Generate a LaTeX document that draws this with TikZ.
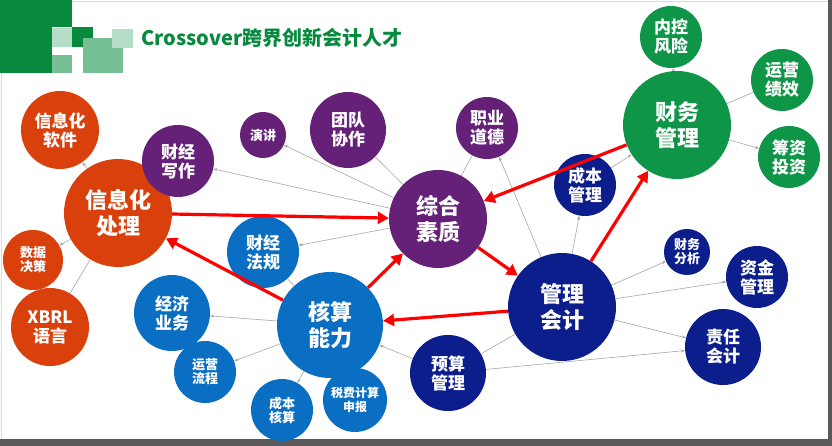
\documentclass[tikz,border=0pt]{standalone}
\usepackage{fontspec}
\setmainfont{Noto Sans CJK SC}
\usetikzlibrary{arrows.meta,backgrounds}
\definecolor{ored}{HTML}{D9400C}
\definecolor{purp}{HTML}{652078}
\definecolor{grn}{HTML}{0E9547}
\definecolor{navy}{HTML}{0C1D8C}
\definecolor{blu}{HTML}{0A6FC2}
\definecolor{dg}{HTML}{078A3E}
\tikzset{
 bub/.style={circle,inner sep=0pt,text=white,font=\bfseries,align=center},
 big/.style={bub,font=\fontsize{22}{26}\bfseries},
 mid/.style={bub,font=\fontsize{17}{19}\bfseries},
 sml/.style={bub,font=\fontsize{13}{14}\bfseries},
 red/.style={draw=red,line width=3.2pt,-{Triangle[length=11pt,width=12pt]}},
 gl/.style={draw=gray!70,line width=0.6pt},
 ga/.style={gl,-{Stealth[length=4pt,width=3pt]}}
}
\begin{document}
\begin{tikzpicture}[x=1pt,y=-1pt]
\useasboundingbox (0,0) rectangle (832,446);
% nodes
\node[big,fill=ored,minimum size=108pt] (xxh) at (118,213) {信息化\\处理};
\node[mid,fill=ored,minimum size=78pt] (rj) at (60,130) {信息化\\软件};
\node[sml,fill=ored,minimum size=60pt] (sj) at (33,260) {数据\\决策};
\node[mid,fill=ored,minimum size=78pt] (xb) at (50,327) {XBRL\\语言};
\node[mid,fill=purp,minimum size=72pt] (xz) at (178,161) {财经\\写作};
\node[sml,fill=purp,minimum size=46pt] (yj) at (263,135) {演讲};
\node[mid,fill=purp,minimum size=76pt] (td) at (348,130) {团队\\协作};
\node[mid,fill=purp,minimum size=62pt] (zy) at (487,128) {职业\\道德};
\node[big,fill=purp,minimum size=98pt] (zh) at (438,219) {综合\\素质};
\node[big,fill=grn,minimum size=108pt] (cw) at (677,125) {财务\\管理};
\node[mid,fill=grn,minimum size=62pt] (nk) at (671,37) {内控\\风险};
\node[mid,fill=grn,minimum size=62pt] (yy) at (782,80) {运营\\绩效};
\node[mid,fill=grn,minimum size=62pt] (cz) at (789,157) {筹资\\投资};
\node[mid,fill=navy,minimum size=62pt] (cb) at (585,185) {成本\\管理};
\node[big,fill=navy,minimum size=108pt] (gl) at (562,307) {管理\\会计};
\node[sml,fill=navy,minimum size=46pt] (fx) at (687,252) {财务\\分析};
\node[mid,fill=navy,minimum size=62pt] (zj) at (757,277) {资金\\管理};
\node[mid,fill=navy,minimum size=76pt] (zr) at (723,347) {责任\\会计};
\node[mid,fill=navy,minimum size=76pt] (ys) at (448,373) {预算\\管理};
\node[big,fill=blu,minimum size=106pt] (hs) at (330,325) {核算\\能力};
\node[mid,fill=blu,minimum size=72pt] (fg) at (263,252) {财经\\法规};
\node[mid,fill=blu,minimum size=76pt] (jj) at (172,313) {经济\\业务};
\node[sml,fill=blu,minimum size=62pt] (lc) at (205,372) {运营\\流程};
\node[sml,fill=blu,minimum size=62pt] (hsb) at (282,410) {成本\\核算};
\node[sml,fill=blu,minimum size=64pt,font=\fontsize{12}{14}\bfseries] (sf) at (355,400) {税费计算\\申报};
\node[anchor=west,text=dg,font=\fontsize{20}{22}\bfseries] (title) at (138,38) {Crossover跨界创新会计人才};
\begin{scope}[on background layer]
\fill[white] (0,0) rectangle (832,446);
\draw[gray!30] (1,1) rectangle (828,439);
\fill[gray!70!black] (0,439) rectangle (832,446);
\fill[gray!70!black] (828,0) rectangle (832,446);
% logo
\fill[dg] (0,0) rectangle (72,27);
\fill[dg] (0,0) rectangle (52,73);
\fill[dg!30] (52,28) rectangle (72,47);
\fill[dg] (72,27) rectangle (93,47);
\fill[dg!55] (83,38) rectangle (123,73);
\fill[dg!30] (112,29) rectangle (133,48);
\fill[dg!55] (52,55) rectangle (72,73);
% grey links
\draw[ga] (xxh) -- (rj);
\draw[ga] (xxh) -- (sj);
\draw[gl] (xxh) -- (xb);
\draw[ga] (zh) -- (xz);
\draw[ga] (zh) -- (yj);
\draw[gl] (zh) -- (td);
\draw[gl] (zh) -- (zy);
\draw[ga] (zh) -- (fg);
\draw[ga] (gl) -- (zy);
\draw[ga] (gl) -- (cb);
\draw[ga] (gl) -- (fx);
\draw[ga] (gl) -- (zj);
\draw[ga] (gl) -- (zr);
\draw[gl] (gl) -- (ys);
\draw[ga] (ys) -- (hs);
\draw[ga] (ys) -- (zr);
\draw[ga] (hs) -- (jj);
\draw[ga] (hs) -- (lc);
\draw[ga] (hs) -- (hsb);
\draw[gl] (hs) -- (fg);
\draw[ga] (cb) -- (cw);
\draw[ga] (cw) -- (nk);
\draw[gl] (cw) -- (yy);
\draw[ga] (cw) -- (cz);
\end{scope}
% red arrows
\draw[red] (xxh) -- (zh);
\draw[red] (hs) -- (xxh);
\draw[red] (hs) -- (zh);
\draw[red] (zh) -- (gl);
\draw[red] (gl) -- (hs);
\draw[red] (gl) -- (cw);
\draw[red] (cw) -- (zh);
\end{tikzpicture}
\end{document}
